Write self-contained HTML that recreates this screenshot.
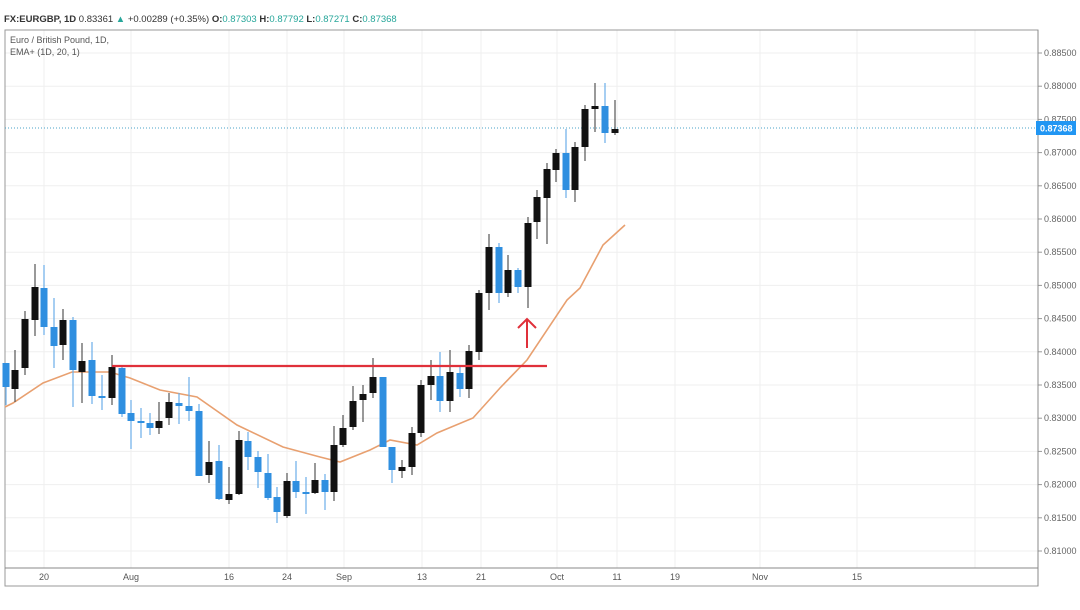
<!DOCTYPE html>
<html><head><meta charset="utf-8"><style>
html,body{margin:0;padding:0;background:#fff;}
svg{display:block;font-family:"Liberation Sans",sans-serif;}
</style></head><body>
<svg width="1080" height="610" viewBox="0 0 1080 610" xmlns="http://www.w3.org/2000/svg">
<rect width="1080" height="610" fill="#fff"/>
<g id="grid" stroke="#efefef" stroke-width="1"></g>
<rect x="5" y="30" width="1033" height="556" fill="none" stroke="#9a9a9a" stroke-width="1"/>
<line x1="5" y1="568" x2="1038" y2="568" stroke="#888"/>
<line x1="1038" y1="30" x2="1038" y2="586" stroke="#888"/>
<g id="ylab" font-size="9" fill="#666"></g>
<g id="xlab" font-size="9" fill="#555"></g>
<line x1="5" y1="128" x2="1038" y2="128" stroke="#4aa3c8" stroke-width="1" stroke-dasharray="1,2"/>
<polyline fill="none" stroke="#e8a070" stroke-width="1.6" points="5,407 13,403 43,383 72,372 110,372 130,378 160,390 197,397 237,425 283,447 320,457 340,462 370,450 390,440 417,445 437,433 473,418 500,388 527,360 567,300 580,288 603,245 625,225"/>
<g id="candles"></g>
<line x1="112" y1="366" x2="547" y2="366" stroke="#e0303a" stroke-width="2.2"/>
<g stroke="#e0303a" stroke-width="2" fill="none"><line x1="527" y1="348" x2="527" y2="319"/><polyline points="518,328 527,319 536,328"/></g>
<rect x="1036" y="121" width="40" height="14" fill="#2196f3"/>
<text x="1040" y="131.5" font-size="9" fill="#fff" font-weight="bold">0.87368</text>
<text x="4" y="22" font-size="9.5" fill="#333"><tspan font-weight="bold">FX:EURGBP, 1D</tspan> 0.83361 <tspan fill="#26a69a">▲</tspan> +0.00289 (+0.35%) <tspan font-weight="bold">O:</tspan><tspan fill="#26a69a">0.87303</tspan> <tspan font-weight="bold">H:</tspan><tspan fill="#26a69a">0.87792</tspan> <tspan font-weight="bold">L:</tspan><tspan fill="#26a69a">0.87271</tspan> <tspan font-weight="bold">C:</tspan><tspan fill="#26a69a">0.87368</tspan></text>
<text x="10" y="43" font-size="9" fill="#555">Euro / British Pound, 1D,</text>
<text x="10" y="55" font-size="9" fill="#555">EMA+ (1D, 20, 1)</text>
</svg>
<script>
const NS="http://www.w3.org/2000/svg";
function el(p,t,a,txt){const e=document.createElementNS(NS,t);for(const k in a)e.setAttribute(k,a[k]);if(txt)e.textContent=txt;document.getElementById(p).appendChild(e);}
for(let i=0;i<=15;i++){const p=0.885-i*0.005;const y=53+i*33.2;
 if(y<566){el("grid","line",{x1:5,y1:y,x2:1038,y2:y});el("grid","line",{x1:1038,y1:y,x2:1042,y2:y,stroke:"#999"});
 el("ylab","text",{x:1044,y:y+3},p.toFixed(5));}}
const xs=[[44,"20"],[131,"Aug"],[229,"16"],[287,"24"],[344,"Sep"],[422,"13"],[481,"21"],[557,"Oct"],[617,"11"],[675,"19"],[760,"Nov"],[857,"15"]];
xs.forEach(([x,t])=>{el("grid","line",{x1:x,y1:30,x2:x,y2:568});el("xlab","text",{x:x,y:580,"text-anchor":"middle"},t);});
el("grid","line",{x1:975,y1:30,x2:975,y2:568});
const C=[[6,"b",363,387,363,405],[15,"k",370,389,350,402],[25,"k",319,368,311,375],[35,"k",287,320,264,336],[44,"b",288,327,265,335],[54,"b",327,346,298,368],[63,"k",320,345,309,360],[73,"b",320,370,317,407],[82,"k",361,372,343,403],[92,"b",360,396,342,404],[102,"b",396,398,375,410],[112,"k",367,398,355,405],[122,"b",368,414,367,417],[131,"b",413,421,400,449],[141,"b",421,423,408,438],[150,"b",423,428,413,435],[159,"k",421,428,402,434],[169,"k",402,418,393,425],[179,"b",403,406,393,424],[189,"b",406,411,377,421],[199,"b",411,476,404,476],[209,"k",462,475,441,483],[219,"b",461,499,445,500],[229,"k",494,500,467,504],[239,"k",440,494,431,495],[248,"b",441,457,432,470],[258,"b",457,472,451,488],[268,"b",473,498,454,500],[277,"b",497,512,487,523],[287,"k",481,516,473,518],[296,"b",481,492,461,498],[306,"b",492,493,477,514],[315,"k",480,493,463,494],[325,"b",480,492,474,510],[334,"k",445,492,426,501],[343,"k",428,445,415,447],[353,"k",401,427,386,430],[363,"k",394,400,385,422],[373,"k",377,393,358,398],[383,"b",377,447,377,447],[392,"b",447,470,447,483],[402,"k",467,471,460,478],[412,"k",433,467,427,475],[421,"k",385,433,380,437],[431,"k",376,385,360,400],[440,"b",376,401,352,412],[450,"k",372,401,350,412],[460,"b",373,389,367,397],[469,"k",351,389,345,398],[479,"k",293,352,290,360],[489,"k",247,293,234,310],[499,"b",247,293,243,303],[508,"k",270,293,255,297],[518,"b",270,287,268,293],[528,"k",223,287,217,308],[537,"k",197,222,190,239],[547,"k",169,198,163,244],[556,"k",153,170,149,182],[566,"b",153,190,129,198],[575,"k",147,190,142,202],[585,"k",109,147,105,161],[595,"k",106,109,83,132],[605,"b",106,133,83,143],[615,"k",129,133,100,135]];
C.forEach(([x,c,t,b,h,l])=>{const col=c=="k"?"#111":"#2f8fe0";
 el("candles","line",{x1:x,y1:h,x2:x,y2:l,stroke:c=="k"?"#555":"#6aaee8","stroke-width":1.2});
 el("candles","rect",{x:x-3.5,y:t,width:7,height:Math.max(2,b-t),fill:col});});
</script>
</body></html>
